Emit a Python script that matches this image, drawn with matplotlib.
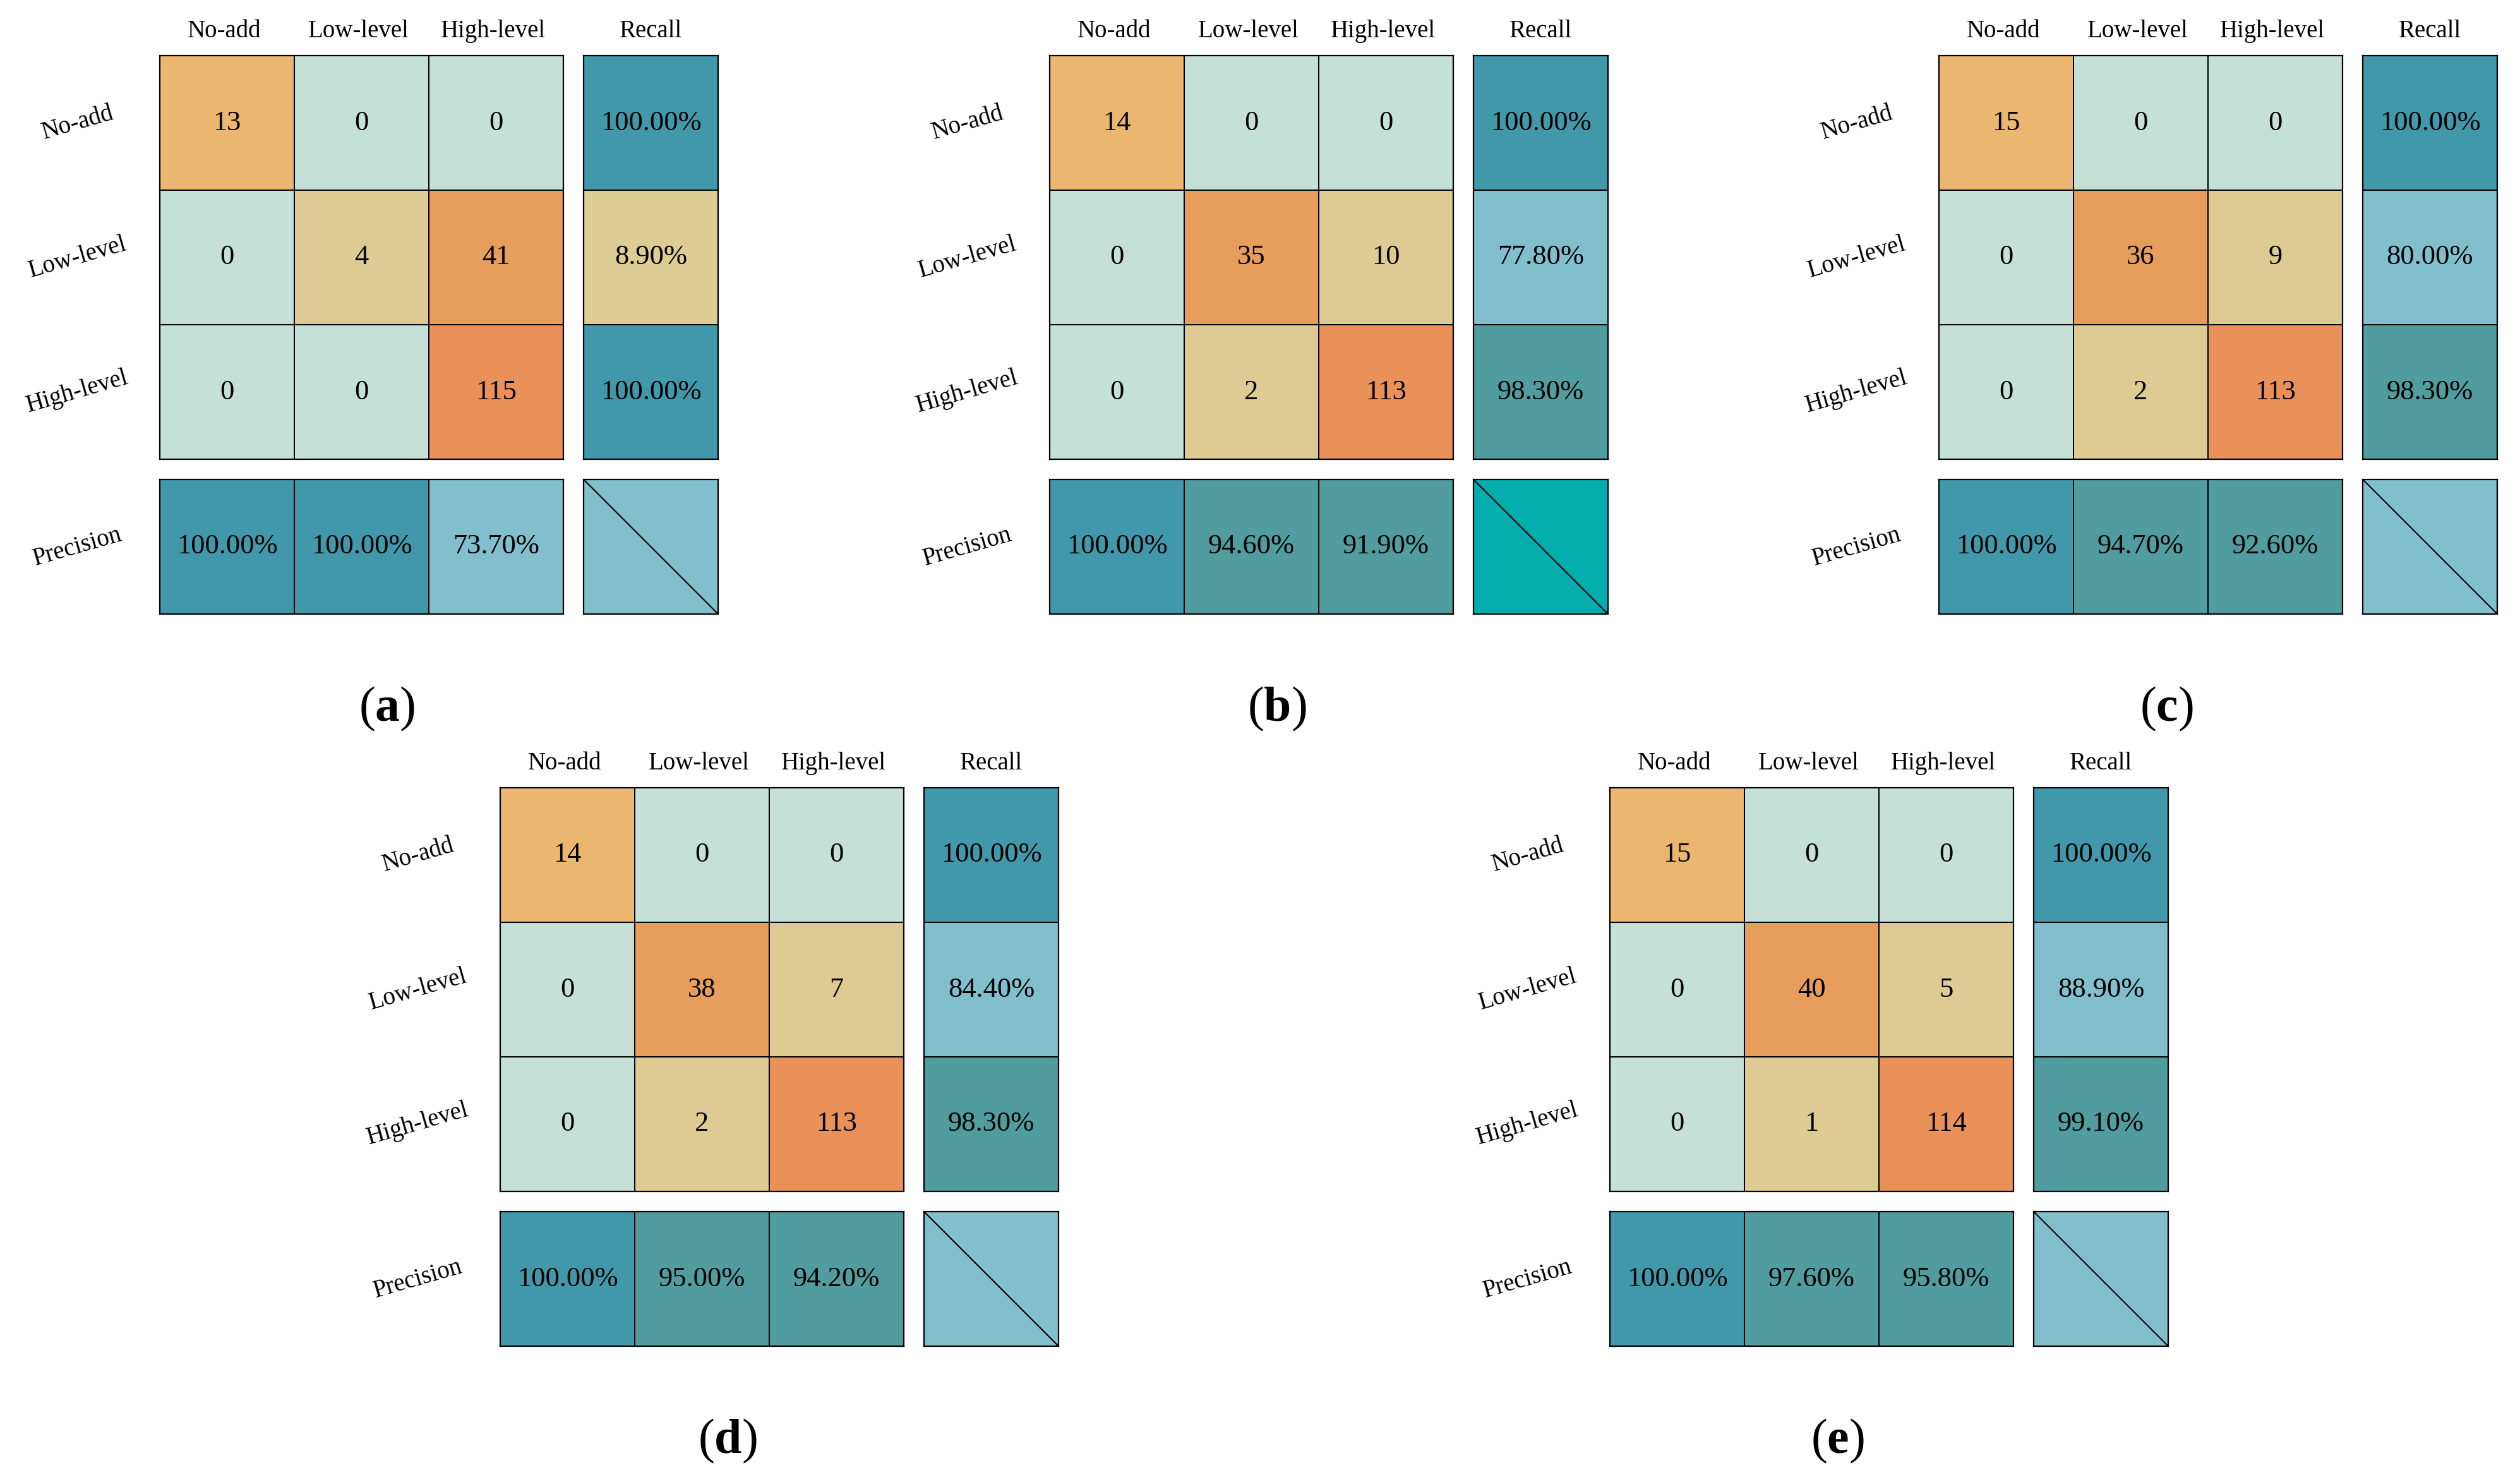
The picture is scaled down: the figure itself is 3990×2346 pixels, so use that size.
import numpy as np
import matplotlib
matplotlib.use("Agg")
import matplotlib.pyplot as plt
from matplotlib.colors import ListedColormap, BoundaryNorm

# class names and panel tags
classes = ["No-add", "Low-level", "High-level"]
panel_tags = ["a", "b", "c", "d", "e"]

# confusion matrices (rows = true, cols = predicted)
counts_a = [[13, 0, 0], [0, 4, 41], [0, 0, 115]]
counts_b = [[14, 0, 0], [0, 35, 10], [0, 2, 113]]
counts_c = [[15, 0, 0], [0, 36, 9], [0, 2, 113]]
counts_d = [[14, 0, 0], [0, 38, 7], [0, 2, 113]]
counts_e = [[15, 0, 0], [0, 40, 5], [0, 1, 114]]

# recall per class (%)
recall_a = [100.0, 8.9, 100.0]
recall_b = [100.0, 77.8, 98.3]
recall_c = [100.0, 80.0, 98.3]
recall_d = [100.0, 84.4, 98.3]
recall_e = [100.0, 88.9, 99.1]

# precision per class (%)
precision_a = [100.0, 100.0, 73.7]
precision_b = [100.0, 94.6, 91.9]
precision_c = [100.0, 94.7, 92.6]
precision_d = [100.0, 95.0, 94.2]
precision_e = [100.0, 97.6, 95.8]

# colour bins
count_cmap = ListedColormap(["#C5E0D6", "#DDCB93", "#EBB66F", "#E79D5B", "#EA9059"])
count_norm = BoundaryNorm([0, 1, 12, 30, 100, 200], 5)
pct_cmap = ListedColormap(["#DDCC94", "#82BFCD", "#519C9E", "#4298AB"])
pct_norm = BoundaryNorm([0, 50, 90, 99.95, 101], 4)
corner_colors = ["#82BFCD", "#02ADAD", "#82BFCD", "#82BFCD", "#82BFCD"]

W, H = 3990, 2346
CELL = 213
GAP = 32
# matrix top-left corners in pixels
origins = [(253, 88), (1662, 88), (3070, 88), (792, 1247), (2549, 1247)]

plt.rcParams['font.family'] = ['Liberation Serif', 'DejaVu Serif']
plt.rcParams['mathtext.fontset'] = 'custom'
plt.rcParams['mathtext.rm'] = 'Liberation Serif'
plt.rcParams['mathtext.bf'] = 'Liberation Serif:bold'

fig = plt.figure(figsize=(W / 100, H / 100), dpi=100)


def add_px_axes(x, y, w, h):
    ax = fig.add_axes([x / W, 1 - (y + h) / H, w / W, h / H])
    ax.set_xticks([])
    ax.set_yticks([])
    for s in ax.spines.values():
        s.set_linewidth(1.6)
    return ax


def draw_block(ax, arr, cmap, norm, fmt):
    arr = np.asarray(arr, dtype=float)
    nr, nc = arr.shape
    ax.pcolormesh(arr, cmap=cmap, norm=norm, edgecolors='k', linewidth=1.3)
    ax.set_xlim(0, nc)
    ax.set_ylim(nr, 0)
    for i in range(nr):
        for j in range(nc):
            ax.text(j + 0.5, i + 0.5, fmt(arr[i, j]), ha='center', va='center',
                    fontsize=32, color='black')


def draw_panel(k, counts, recall, precision):
    x0, y0 = origins[k]
    # main matrix
    ax = add_px_axes(x0, y0, 3 * CELL, 3 * CELL)
    draw_block(ax, counts, count_cmap, count_norm, lambda v: f"{int(v)}")
    for j, name in enumerate(classes):
        ax.text(j + 0.48, -0.18, name, ha='center', va='center', fontsize=28)
    for i, name in enumerate(classes):
        ax.text(-0.61, i + 0.5, name, ha='center', va='center', fontsize=28,
                rotation=16, rotation_mode='anchor')
    # recall column
    axr = add_px_axes(x0 + 3 * CELL + GAP, y0, CELL, 3 * CELL)
    draw_block(axr, np.array(recall).reshape(3, 1), pct_cmap, pct_norm, lambda v: f"{v:.2f}%")
    axr.text(0.5, -0.18, "Recall", ha='center', va='center', fontsize=28)
    # precision row
    axp = add_px_axes(x0, y0 + 3 * CELL + GAP, 3 * CELL, CELL)
    draw_block(axp, np.array(precision).reshape(1, 3), pct_cmap, pct_norm, lambda v: f"{v:.2f}%")
    axp.text(-0.61, 0.5, "Precision", ha='center', va='center', fontsize=28,
             rotation=16, rotation_mode='anchor')
    # empty corner with diagonal
    axc = add_px_axes(x0 + 3 * CELL + GAP, y0 + 3 * CELL + GAP, CELL, CELL)
    axc.set_facecolor(corner_colors[k])
    axc.set_xlim(0, 1)
    axc.set_ylim(1, 0)
    axc.plot([0, 1], [0, 1], color='black', linewidth=1.5)
    # panel tag: regular parentheses, bold letter
    ty = y0 + 1034
    fig.text((x0 + 360) / W, 1 - ty / H, r"$(\mathbf{" + panel_tags[k] + r"})$",
             ha='center', va='center', fontsize=56)


all_counts = [counts_a, counts_b, counts_c, counts_d, counts_e]
all_recall = [recall_a, recall_b, recall_c, recall_d, recall_e]
all_precision = [precision_a, precision_b, precision_c, precision_d, precision_e]

for k in range(5):
    draw_panel(k, all_counts[k], all_recall[k], all_precision[k])

fig.savefig("out.png", dpi=100, facecolor='white')
